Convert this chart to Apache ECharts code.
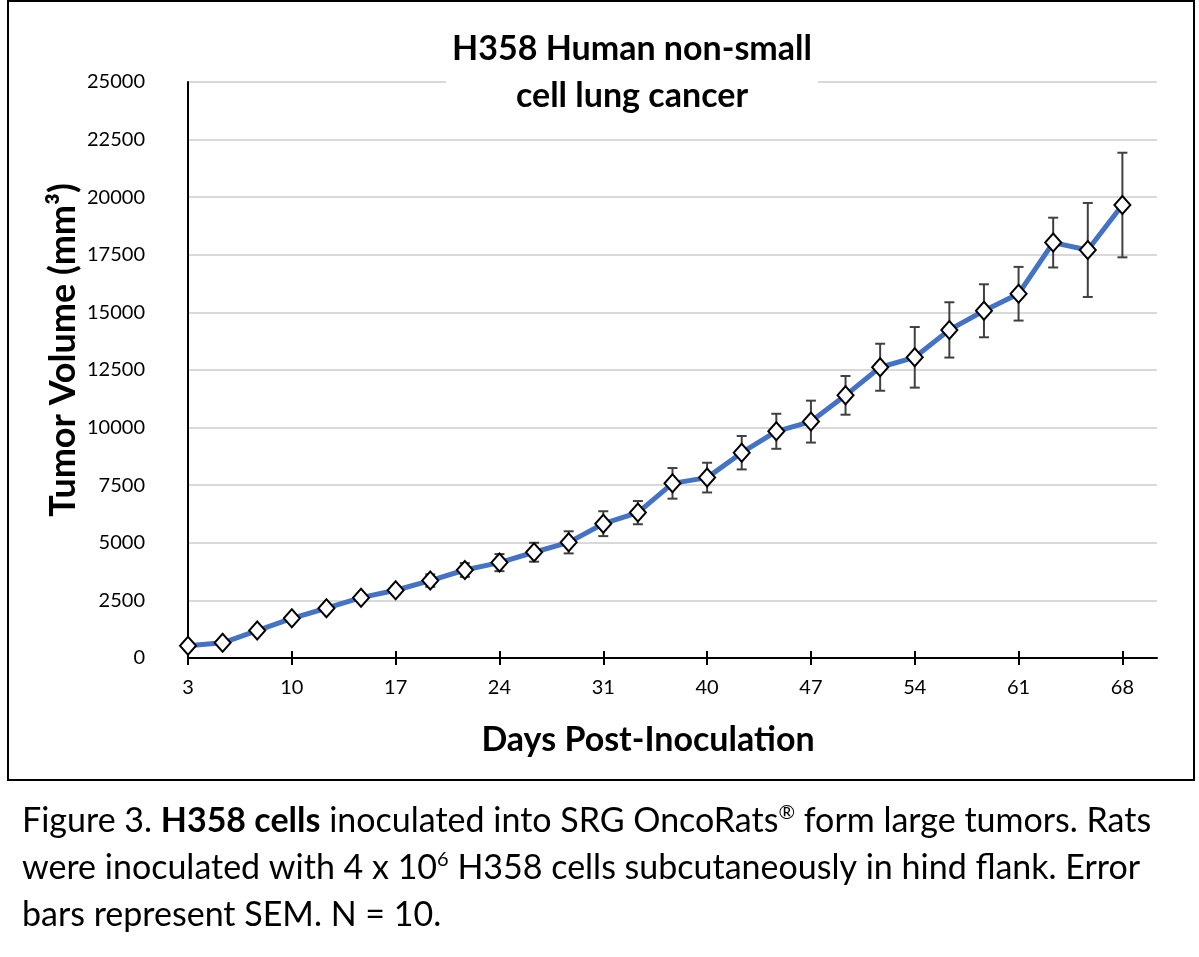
<!DOCTYPE html>
<html>
<head>
<meta charset="utf-8">
<script src="https://cdn.jsdelivr.net/npm/echarts@6/dist/echarts.min.js"></script>
<style>
html,body{margin:0;padding:0;background:#fff;}
#main{width:1199px;height:957px;}
</style>
</head>
<body>
<div id="main"></div>
<script>
// ---- data ----
const days = ['3','5','7','10','12','14','17','19','21','24','26','28','31','34','37','40','42','44','47','49','51','54','56','58','61','63','65','68'];
const meanVolume = [530, 660, 1190, 1720, 2160, 2620, 2940, 3360, 3820, 4140, 4590, 5020, 5830, 6310, 7580, 7830, 8910, 9840, 10260, 11400, 12620, 13050, 14240, 15070, 15810, 18030, 17710, 19660];
const semVolume = [40, 50, 80, 100, 120, 150, 180, 270, 300, 370, 410, 480, 540, 505, 665, 645, 725, 760, 910, 840, 1020, 1315, 1200, 1150, 1165, 1080, 2040, 2270];
const yTicks = [0, 2500, 5000, 7500, 10000, 12500, 15000, 17500, 20000, 22500, 25000];

const FONT = 'Lato';
const errData = meanVolume.map((m, i) => [i, m - semVolume[i], m + semVolume[i]]);

const chart = echarts.init(document.getElementById('main'), null, {renderer: 'canvas'});
chart.setOption({
  backgroundColor: '#fff',
  animation: false,
  grid: {left: 188, right: 42, top: 82, bottom: 299, containLabel: false},
  xAxis: [{
    type: 'category',
    data: days,
    boundaryGap: false,
    max: days.length,
    axisLine: {lineStyle: {color: '#000', width: 2}},
    axisTick: {show: true, interval: 2, length: 7, lineStyle: {color: '#000', width: 2}},
    axisLabel: {interval: 2, margin: 20, fontFamily: FONT, fontSize: 20, color: '#000'}
  }, {
    type: 'category',
    data: days,
    boundaryGap: false,
    max: days.length,
    position: 'bottom',
    axisLine: {show: false},
    axisTick: {show: true, inside: true, interval: 2, length: 7, lineStyle: {color: '#000', width: 2}},
    axisLabel: {show: false},
    splitLine: {show: false}
  }],
  yAxis: {
    type: 'value',
    min: yTicks[0],
    max: yTicks[yTicks.length - 1],
    interval: yTicks[1] - yTicks[0],
    axisLine: {show: true, lineStyle: {color: '#000', width: 2}},
    axisTick: {show: false},
    axisLabel: {margin: 43, fontFamily: FONT, fontSize: 20, color: '#000', formatter: v => String(v)},
    splitLine: {lineStyle: {color: '#D9D9D9', width: 2}}
  },
  series: [{
    type: 'custom',
    z: 2,
    data: errData,
    renderItem: function (params, api) {
      const i = api.value(0);
      const lo = api.coord([i, api.value(1)]);
      const hi = api.coord([i, api.value(2)]);
      const cw = 5;
      const st = {stroke: '#404040', lineWidth: 2};
      return {
        type: 'group',
        children: [
          {type: 'line', shape: {x1: lo[0], y1: lo[1], x2: hi[0], y2: hi[1]}, style: st},
          {type: 'line', shape: {x1: lo[0] - cw, y1: lo[1], x2: lo[0] + cw, y2: lo[1]}, style: st},
          {type: 'line', shape: {x1: hi[0] - cw, y1: hi[1], x2: hi[0] + cw, y2: hi[1]}, style: st}
        ]
      };
    }
  }, {
    type: 'line',
    z: 3,
    data: meanVolume,
    lineStyle: {color: '#4472C4', width: 5},
    itemStyle: {color: '#fff', borderColor: '#000', borderWidth: 2},
    symbol: 'diamond',
    symbolSize: [16, 18],
    showAllSymbol: true
  }],
  graphic: [{
    type: 'rect',
    shape: {x: 8, y: 1, width: 1186, height: 779},
    style: {fill: 'none', stroke: '#000', lineWidth: 2},
    silent: true
  }, {
    type: 'text',
    x: 632, y: 26,
    z: 10,
    style: {
      text: 'H358 Human non-small\ncell lung cancer',
      fontFamily: FONT, fontWeight: 'bold', fontSize: 34, lineHeight: 47, fill: '#000',
      align: 'center', verticalAlign: 'top',
      backgroundColor: '#fff',
      padding: [0, 6, 0, 6]
    },
    silent: true
  }, {
    type: 'text',
    x: 63, y: 350,
    rotation: Math.PI / 2,
    style: {
      text: 'Tumor Volume (mm³)',
      fontFamily: FONT, fontWeight: 'bold', fontSize: 36, fill: '#000',
      align: 'center', verticalAlign: 'middle'
    },
    silent: true
  }, {
    type: 'text',
    x: 648, y: 740,
    style: {
      text: 'Days Post-Inoculation',
      fontFamily: FONT, fontWeight: 'bold', fontSize: 34, fill: '#000',
      align: 'center', verticalAlign: 'middle'
    },
    silent: true
  }, {
    type: 'text',
    left: 22,
    top: 798,
    style: {
      text: '{n|Figure 3. }{b|H358 cells}{n| inoculated into SRG OncoRats}{s|®}{n| form large tumors. Rats}\n{n|were inoculated with 4 x 10}{s|6}{n| H358 cells subcutaneously in hind flank. Error}\n{n|bars represent SEM. N = 10.}',
      fontFamily: FONT,
      fontSize: 34,
      lineHeight: 47,
      fill: '#000',
      rich: {
        n: {fontFamily: FONT, fontSize: 34, lineHeight: 47, color: '#000'},
        b: {fontFamily: FONT, fontSize: 34, fontWeight: 'bold', lineHeight: 47, color: '#000'},
        s: {fontFamily: FONT, fontSize: 20, lineHeight: 47, verticalAlign: 'top', padding: [5, 0, 0, 0], color: '#000'}
      }
    }
  }]
});
</script>
</body>
</html>
